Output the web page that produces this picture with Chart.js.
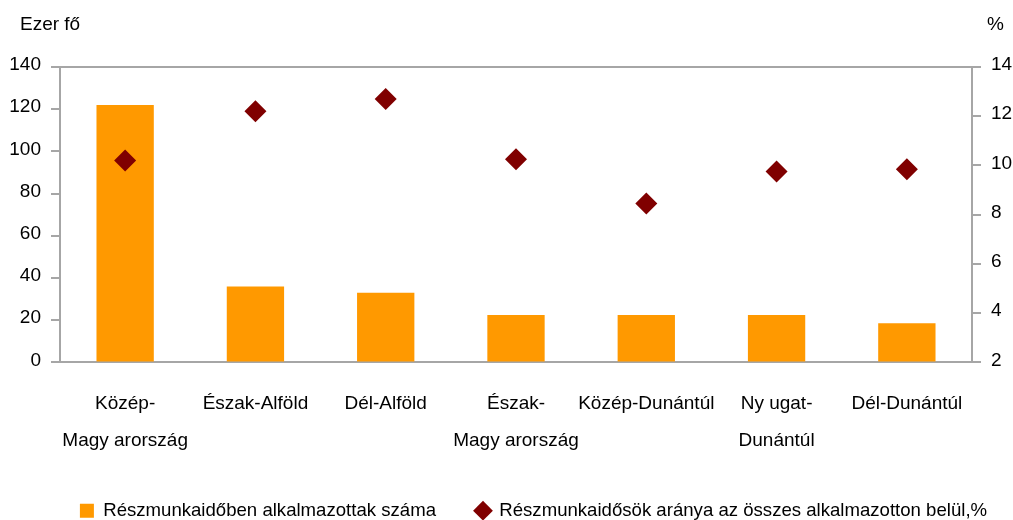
<!DOCTYPE html>
<html>
<head>
<meta charset="utf-8">
<script src="https://cdn.jsdelivr.net/npm/chart.js@4"></script>
<style>
    body { margin: 0; background: #fff; }
    #wrap { width: 1013px; height: 520px; }
</style>
</head>
<body>
<div id="wrap"><canvas id="chart" width="1013" height="520"></canvas></div>
<script>
const regions = [
    ["Közép-", "Magy arország"],
    "Észak-Alföld",
    "Dél-Alföld",
    ["Észak-", "Magy arország"],
    "Közép-Dunántúl",
    ["Ny ugat-", "Dunántúl"],
    "Dél-Dunántúl"
];
const partTimeCount = [122, 36, 33, 22.5, 22.5, 22.5, 18.5];
const partTimeShare = [10.2, 12.2, 12.7, 10.25, 8.45, 9.75, 9.85];

const axisGray = "#a6a6a6";
const font = { family: "'Liberation Sans', Arial, sans-serif", size: 19 };

// box top line + unit labels above the axes
const frame = {
    id: "frame",
    afterLayout(chart) {
        // legend sits a bit right of centre in the original
        chart.legend.left += 27;
        chart.legend.right += 27;
    },
    afterDraw(chart) {
        const { ctx, chartArea } = chart;
        ctx.save();
        ctx.strokeStyle = axisGray;
        ctx.lineWidth = 2;
        ctx.beginPath();
        ctx.moveTo(chartArea.left, chartArea.top);
        ctx.lineTo(chartArea.right, chartArea.top);
        ctx.stroke();
        ctx.fillStyle = "#000";
        ctx.font = `${font.size}px ${font.family}`;
        ctx.textBaseline = "alphabetic";
        ctx.textAlign = "left";
        ctx.fillText("Ezer fő", 20, 30);
        ctx.fillText("%", 987, 30);
        ctx.restore();
    }
};

new Chart(document.getElementById("chart"), {
    data: {
        labels: regions,
        datasets: [
            {
                type: "line",
                label: "Részmunkaidősök aránya az összes alkalmazotton belül,%",
                data: partTimeShare,
                yAxisID: "y1",
                showLine: false,
                pointStyle: "rectRot",
                pointRadius: 11,
                backgroundColor: "#800000",
                borderColor: "#800000",
                borderWidth: 0,
                order: 0
            },
            {
                type: "bar",
                label: "Részmunkaidőben alkalmazottak száma",
                data: partTimeCount,
                yAxisID: "y",
                backgroundColor: "#ff9900",
                pointStyle: "rect",
                barPercentage: 0.44,
                categoryPercentage: 1,
                order: 1
            }
        ]
    },
    options: {
        responsive: false,
        animation: false,
        layout: { padding: { top: 67, left: 0, right: 0, bottom: -10 } },
        plugins: {
            tooltip: { enabled: false },
            legend: {
                position: "bottom",
                reverse: true,
                labels: {
                    usePointStyle: true,
                    font: { ...font, size: 18.6 },
                    color: "#000",
                    padding: 40,
                    boxWidth: 14,
                    boxHeight: 14
                }
            }
        },
        scales: {
            x: {
                grid: { display: false },
                border: { color: axisGray, width: 2 },
                ticks: {
                    color: "#000",
                    font: { ...font, lineHeight: 1.95 },
                    maxRotation: 0,
                    autoSkip: false,
                    padding: 15
                },
                afterFit(scale) { scale.height = 99; }
            },
            y: {
                position: "left",
                min: 0,
                max: 140,
                border: { color: axisGray, width: 2 },
                grid: { drawOnChartArea: false, color: axisGray, tickLength: 9, lineWidth: 2 },
                ticks: { stepSize: 20, color: "#000", font: font, padding: 10, labelOffset: -2 },
                afterFit(scale) { scale.width = 60; }
            },
            y1: {
                position: "right",
                min: 2,
                max: 14,
                border: { color: axisGray, width: 2 },
                grid: { drawOnChartArea: false, color: axisGray, tickLength: 9, lineWidth: 2 },
                ticks: { stepSize: 2, color: "#000", font: font, padding: 10, labelOffset: -2 },
                afterFit(scale) { scale.width = 41; }
            }
        }
    },
    plugins: [frame]
});
</script>
</body>
</html>
